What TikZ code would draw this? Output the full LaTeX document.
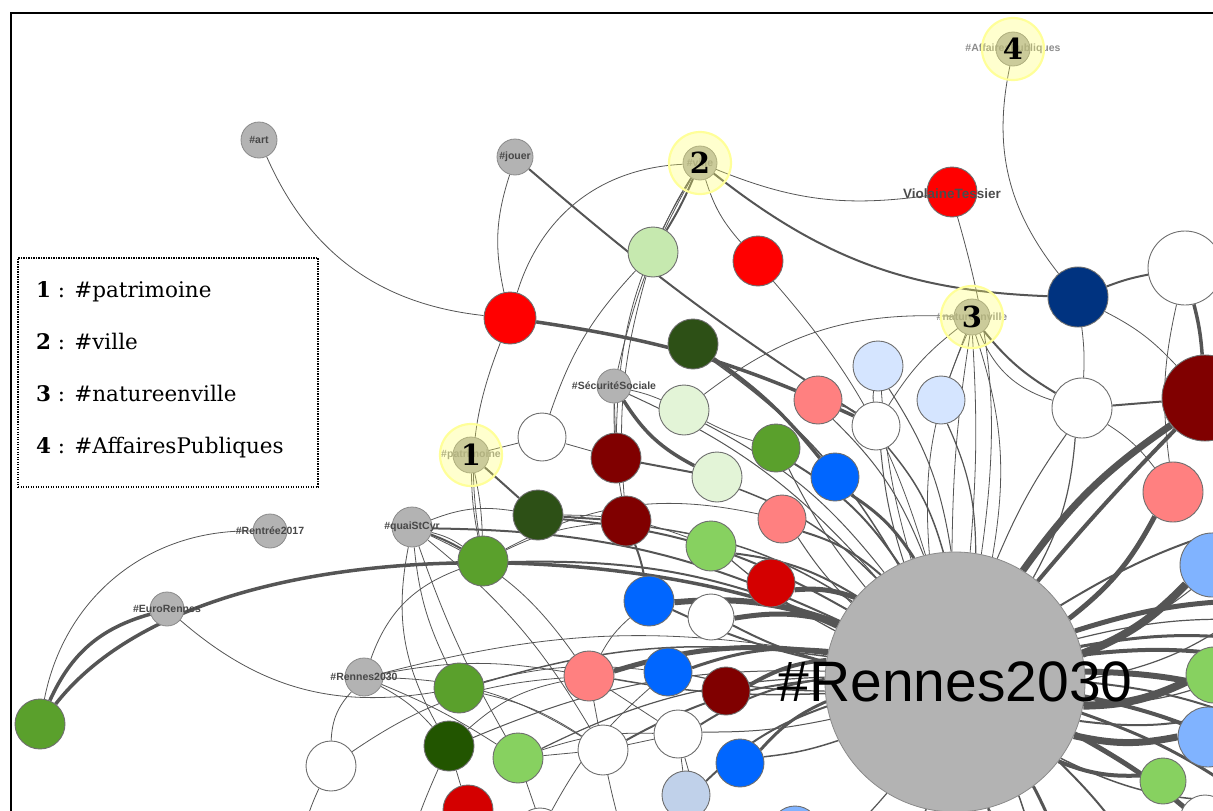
\documentclass[tikz,border=0pt]{standalone}
\usepackage{fontspec}
\setmainfont{DejaVu Serif}
\newfontfamily\gephifont{Liberation Sans}
\usetikzlibrary{backgrounds}

\definecolor{edgegray}{HTML}{555555}
\definecolor{taggray}{HTML}{B3B3B3}
\definecolor{tagline}{HTML}{8A8A8A}
\definecolor{userline}{HTML}{6E6E6E}
\definecolor{haloyellow}{HTML}{FFFF66}
\definecolor{haloring}{HTML}{FFFF99}
\definecolor{cRed}{HTML}{FF0000}
\definecolor{cRedd}{HTML}{D40000}
\definecolor{cDarkred}{HTML}{800000}
\definecolor{cSalmon}{HTML}{FF8080}
\definecolor{cPalegreen}{HTML}{C6E9AF}
\definecolor{cMintgreen}{HTML}{E3F4D7}
\definecolor{cGreen}{HTML}{5AA02C}
\definecolor{cLightgreen}{HTML}{87D160}
\definecolor{cDarkgreen}{HTML}{2D5016}
\definecolor{cForest}{HTML}{225500}
\definecolor{cBlue}{HTML}{0066FF}
\definecolor{cIceblue}{HTML}{D5E5FF}
\definecolor{cSkyblue}{HTML}{80B3FF}
\definecolor{cSteel}{HTML}{C0D1EA}
\definecolor{cNavy}{HTML}{003380}

\tikzset{
  tag/.style={circle, inner sep=0pt, minimum size=#1, fill=taggray, draw=tagline, line width=0.8pt},
  tag/.default=34,
  tagtext/.style={font=\gephifont\bfseries\fontsize{10.5}{10.5}\selectfont, text=black!72, inner sep=0pt},
  user/.style={circle, inner sep=0pt, minimum size=#1, draw=userline, line width=0.9pt},
  user/.default=50,
  halo/.style={circle, inner sep=0pt, minimum size=62, fill=haloyellow, fill opacity=0.32,
    draw=haloring, draw opacity=1, line width=2.2pt, text opacity=1,
    font=\bfseries\fontsize{29}{29}\selectfont},
  link/.style={draw=edgegray, line width=0.8pt},
  strong/.style={link, line width=2pt},
  heavy/.style={link, line width=3.5pt},
  legendline/.style={anchor=base west, font=\fontsize{21.5}{21.5}\selectfont, inner sep=0pt},
}

\begin{document}
\begin{tikzpicture}[x=1pt, y=-1pt]
\useasboundingbox (0,0) rectangle (1213,811);
\clip (0,0) rectangle (1213,811);

% hashtags
\node[tag=36, label={[tagtext]center:\#art}] (tArt) at (259,140) {};
\node[tag=36, label={[tagtext]center:\#jouer}] (tJouer) at (515,157) {};
\node[tag=34, label={[tagtext, text=black!45]center:\#ville}] (tVille) at (700,163) {};
\node[tag=34, label={[tagtext, text=black!45]center:\#AffairesPubliques}] (tAffaires) at (1013,49) {};
\node[tag=36, label={[tagtext, text=black!45]center:\#natureenville}] (tNature) at (972,317) {};
\node[tag=36, label={[tagtext, text=black!45]center:\#patrimoine}] (tPatri) at (471,455) {};
\node[tag=34, label={[tagtext]center:\#SécuritéSociale}] (tSecu) at (614,386) {};
\node[tag=40, label={[tagtext]center:\#quaiStCyr}] (tQuai) at (412,527) {};
\node[tag=34, label={[tagtext]center:\#Rentrée2017}] (tRentree) at (270,531) {};
\node[tag=34, label={[tagtext]center:\#EuroRennes}] (tEuro) at (167,609) {};
\node[tag=38, label={[tagtext]center:\#Rennes2030}] (tRennes) at (364,677) {};

% accounts
\node[user=50, fill=cRed] (uViolaine) at (952,192) {};
\node[font=\gephifont\bfseries\fontsize{13.5}{13.5}\selectfont, text=black!70, inner sep=0pt] (lViolaine) at (952,194) {ViolaineTessier};
\node[user=52, fill=cRed] (uRedA) at (510,318) {};
\node[user=50, fill=cPalegreen] (uPaleA) at (653,252) {};
\node[user=50, fill=cRed] (uRedB) at (758,261) {};
\node[user=74, fill=white] (uWhiteR) at (1185,268) {};
\node[user=60, fill=cNavy] (uNavy) at (1078,297) {};
\node[user=50, fill=cDarkgreen] (uDarkA) at (693,344) {};
\node[user=50, fill=cIceblue] (uIceA) at (878,366) {};
\node[user=48, fill=cIceblue] (uIceB) at (941,400) {};
\node[user=48, fill=cSalmon] (uSalmA) at (818,400) {};
\node[user=48, fill=white] (uWhiteA) at (876,426) {};
\node[user=60, fill=white] (uWhiteB) at (1082,408) {};
\node[user=86, fill=cDarkred] (uDarkredR) at (1205,398) {};
\node[user=48, fill=white] (uWhiteC) at (542,437) {};
\node[user=50, fill=cDarkred] (uDarkredA) at (616,458) {};
\node[user=50, fill=cMintgreen] (uMintA) at (684,410) {};
\node[user=48, fill=cGreen] (uGreenA) at (776,448) {};
\node[user=50, fill=cMintgreen] (uMintB) at (717,477) {};
\node[user=48, fill=cBlue] (uBlueA) at (835,477) {};
\node[user=60, fill=cSalmon] (uSalmR) at (1173,492) {};
\node[user=50, fill=cDarkgreen] (uDarkB) at (538,515) {};
\node[user=50, fill=cDarkred] (uDarkredB) at (626,521) {};
\node[user=48, fill=cSalmon] (uSalmB) at (782,519) {};
\node[user=50, fill=cGreen] (uGreenB) at (483,561) {};
\node[user=50, fill=cLightgreen] (uLightA) at (711,546) {};
\node[user=48, fill=cRedd] (uReddA) at (771,583) {};
\node[user=50, fill=cBlue] (uBlueB) at (649,601) {};
\node[user=46, fill=white] (uWhiteD) at (711,617) {};
\node[user=64, fill=cSkyblue] (uSkyR) at (1212,565) {};
\node[user=50, fill=cSalmon] (uSalmC) at (589,676) {};
\node[user=48, fill=cBlue] (uBlueC) at (668,672) {};
\node[user=48, fill=cDarkred] (uDarkredC) at (726,691) {};
\node[user=50, fill=cGreen] (uGreenC) at (459,688) {};
\node[user=56, fill=cLightgreen] (uLightR) at (1214,675) {};
\node[user=60, fill=cSkyblue] (uSkyS) at (1208,737) {};
\node[user=46, fill=cLightgreen] (uLightB) at (1163,781) {};
\node[user=50, fill=white] (uWhiteE) at (331,766) {};
\node[user=50, fill=cForest] (uForest) at (449,746) {};
\node[user=50, fill=cLightgreen] (uLightC) at (518,758) {};
\node[user=50, fill=white] (uWhiteF) at (603,750) {};
\node[user=48, fill=white] (uWhiteG) at (678,734) {};
\node[user=48, fill=cBlue] (uBlueD) at (740,763) {};
\node[user=48, fill=cSteel] (uSteel) at (686,795) {};
\node[user=50, fill=cGreen] (uGreenL) at (40,724) {};
\node[user=50, fill=cRedd] (uReddB) at (468,810) {};
\node[user=48, fill=white] (uWhiteH) at (540,832) {};
\node[user=48, fill=cSkyblue] (uSkyB) at (795,830) {};
\node[user=50, fill=white] (uWhiteS) at (1205,820) {};

% central hashtag
\node[tag=260, label={[font=\gephifont\fontsize{57}{57}\selectfont, inner sep=0pt]center:\#Rennes2030}] (hub) at (955,682) {};

% highlighted hashtags
\node[halo] (h1) at (tPatri) {1};
\node[halo] (h2) at (tVille) {2};
\node[halo] (h3) at (tNature) {3};
\node[halo] (h4) at (tAffaires) {4};

% free ends off the frame
\foreach \i/\x/\y in {1/1260/600, 2/1260/640, 3/1260/700, 4/1260/725, 5/1260/760,
  6/1250/800, 7/1230/850, 8/1150/880, 9/1070/890, 10/980/890, 11/880/880,
  12/800/870, 13/1260/520, 14/1260/660, 15/1260/620, 16/1040/900}
  \coordinate (r\i) at (\x,\y);
\foreach \i/\x/\y in {1/400/880, 2/560/880, 3/640/880, 4/720/880, 5/300/860}
  \coordinate (b\i) at (\x,\y);

\begin{pgfonlayer}{background}
\clip (0,0) rectangle (1213,811);

% spokes of the central hashtag
\foreach \u/\w in {uBlueB/6, uWhiteD/5, uSalmC/5, uReddA/5, uGreenB/2, uBlueC/3,
  uDarkredC/4, uLightA/2, uSalmB/2, uBlueA/3, uGreenA/2, uWhiteA/1.5, uSalmA/1,
  uIceA/1, uIceB/1.2, uMintB/1.5, uDarkredB/1.5, uDarkB/2, uWhiteG/2, uBlueD/3,
  uWhiteF/2, uSteel/2, uGreenC/1.5, uLightC/1.2, tQuai/2, uSalmR/5, uSkyR/8,
  uLightR/8, uSkyS/7, uLightB/4, uWhiteB/1.2, uViolaine/0.8, uRedB/0.8,
  tSecu/1, tRennes/0.8, uMintA/1, uDarkA/1.5, uForest/1}
  \draw[link, line width=\w pt] (hub) to[bend right=12] (\u);
\foreach \u/\w in {uBlueB/2, uWhiteD/2, uSalmC/1.5, uBlueC/1.2, uWhiteA/1, uIceA/0.8,
  uGreenA/1, uSalmB/1, uLightA/1.2, uWhiteG/1, uBlueD/1.5, uWhiteB/1}
  \draw[link, line width=\w pt] (hub) to[bend left=6] (\u);
\foreach \i/\w in {1/5, 2/3, 3/6, 4/2, 5/4, 6/3, 7/5, 8/2, 9/3, 10/2, 11/1.5,
  12/1.2, 13/2, 14/4, 15/1.2, 16/1.5}
  \draw[link, line width=\w pt] (hub) to[bend left=8] (r\i);
\foreach \i/\w in {1/1.2, 3/2, 6/1.5, 9/1, 13/1, 14/1.2}
  \draw[link, line width=\w pt] (hub) to[bend right=14] (r\i);
\draw[link, line width=7pt] (hub) to[bend left=10] (uDarkredR);
\draw[link, line width=4pt] (hub) to[bend left=2] (uDarkredR);
\draw[link] (hub) to[bend left=4] (tNature);
\draw[link] (hub) to[bend right=4] (tNature);
\draw[link] (hub) to[bend right=14] (tNature);
\draw[link] (hub) to[bend left=14] (tNature);

% top of the graph
\draw[link] (tArt) to[bend right=30] (uRedA);
\draw[link] (tJouer) to[bend right=15] (uRedA);
\draw[strong] (tJouer) to[bend right=4] (uWhiteA);
\draw[link] (uRedA) to[bend left=35] (tVille);
\draw[strong] (tVille) to[bend left=4] (uPaleA);
\draw[link] (tVille) to[bend right=4] (uPaleA);
\draw[link] (tVille) to[bend right=12] (uRedB);
\draw[link] (tVille) to[bend right=15] (uViolaine);
\draw[strong] (tVille) to[bend right=18] (uNavy);
\draw[link] (tVille) to[bend right=8] (tSecu);
\draw[link] (tVille) to[bend right=15] (uDarkredA);
\draw[heavy] (uRedA) to[bend left=8] (uWhiteA);
\draw[link] (uRedA) to[bend right=15] (uGreenB);
\draw[link] (uPaleA) to[bend right=12] (uWhiteC);
\draw[link] (uPaleA) to[bend right=10] (uDarkredB);
\draw[link] (tAffaires) to[bend right=25] (uNavy);
\draw[strong] (uNavy) to[bend left=5] (uWhiteR);
\draw[link] (uNavy) to[bend left=5] (uWhiteB);
\draw[link] (uNavy) to[bend left=10] (uDarkredR);
\draw[strong] (tNature) to[bend right=10] (uWhiteB);
\draw[link] (tNature) to[bend right=25] (uWhiteB);
\draw[link] (tNature) -- (uIceB);
\draw[link] (tNature) to[bend right=10] (uWhiteA);
\draw[link] (uMintA) to[bend left=20] (tNature);
\draw[strong] (uWhiteB) -- (uDarkredR);
\draw[link] (uWhiteB) to[bend left=10] (uSalmR);
\draw[heavy] (uWhiteR) to[bend left=5] (uDarkredR);
\draw[link] (uWhiteR) to[bend right=10] (uSalmR);

% middle of the graph
\draw[heavy] (uDarkA) to[bend left=8] (uBlueA);
\draw[link] (uMintA) to[bend right=5] (uGreenA);
\draw[heavy] (tSecu) to[bend right=15] (uMintB);
\draw[link] (tSecu) to[bend left=5] (uMintA);
\draw[link] (tSecu) to[bend right=5] (uDarkredB);
\draw[link] (tSecu) -- (uDarkredA);
\draw[strong] (uDarkredB) to[bend left=5] (uBlueB);
\draw[strong] (uDarkredA) -- (uMintB);
\draw[link] (uWhiteC) -- (uDarkredA);
\draw[link] (tPatri) -- (uWhiteC);
\draw[strong] (tPatri) -- (uDarkB);
\draw[link] (tPatri) to[bend right=5] (uGreenB);
\draw[link] (tPatri) to[bend left=5] (uGreenB);
\draw[strong] (uDarkB) -- (uDarkredB);
\draw[link] (uDarkB) to[bend left=10] (uLightA);
\draw[link] (uGreenB) to[bend left=20] (uSalmB);
\draw[link] (uGreenB) to[bend left=10] (uDarkredB);
\draw[link] (uSalmA) to[bend left=10] (uWhiteA);
\draw[link] (uIceA) to[bend right=8] (uWhiteA);

% left of the graph
\draw[heavy] (uGreenL) .. controls (200,520) and (650,540) .. (hub);
\draw[heavy] (uGreenL) to[bend left=25] (tEuro);
\draw[link] (uGreenL) to[bend left=40] (tRentree);
\draw[link] (tEuro) to[bend right=25] (uGreenC);
\draw[link] (tQuai) to[bend left=10] (uGreenB);
\draw[strong] (tQuai) to[bend left=4] (uGreenB);
\draw[link] (tQuai) to[bend left=15] (uDarkB);
\draw[link] (tQuai) to[bend right=10] (uGreenC);
\draw[link] (tQuai) to[bend right=20] (uForest);
\draw[link] (tQuai) to[bend left=10] (uWhiteF);
\draw[link] (tQuai) to[bend left=15] (uSalmC);
\draw[link] (tQuai) to[bend right=5] (uLightC);
\draw[link] (tRennes) to[bend right=20] (uWhiteE);
\draw[link] (tRennes) to[bend left=10] (uForest);
\draw[link] (tRennes) to[bend left=5] (uLightC);
\draw[link] (tRennes) to[bend left=15] (uWhiteF);
\draw[link] (tRennes) to[bend left=25] (uGreenB);
\draw[link] (tRennes) to[bend left=10] (uSalmC);

% bottom of the graph
\draw[link] (uWhiteE) to[bend left=15] (uSalmC);
\draw[link] (uWhiteE) to[bend right=10] (b5);
\draw[link] (uForest) -- (uReddB);
\draw[link] (uLightC) -- (uWhiteF);
\draw[link] (uGreenC) to[bend left=10] (uWhiteF);
\draw[link] (uGreenC) to[bend left=10] (uBlueC);
\draw[link] (uWhiteF) -- (uWhiteG);
\draw[link] (uWhiteF) -- (uSalmC);
\draw[link] (uWhiteG) -- (uSteel);
\draw[link] (uForest) to[bend left=15] (uSalmC);
\draw[link] (uLightC) to[bend left=10] (uWhiteG);
\draw[link] (uSalmC) -- (uWhiteG);
\draw[link] (uSalmC) to[bend left=10] (uBlueB);
\draw[link] (uWhiteF) to[bend right=5] (b3);
\draw[link] (uLightC) -- (b2);
\draw[link] (uForest) to[bend right=5] (b1);
\draw[link] (uWhiteG) -- (b4);
\draw[link] (uBlueC) to[bend right=10] (uWhiteH);
\end{pgfonlayer}

% key
\node[draw, dash pattern=on 1.2pt off 1.3pt, line width=1.2pt, minimum width=300,
  minimum height=229, inner sep=0pt] (key) at (168,372.5) {};
\node[legendline] (k1) at (36,297) {\textbf{1} : \#patrimoine};
\node[legendline] (k2) at (36,349) {\textbf{2} : \#ville};
\node[legendline] (k3) at (36,401) {\textbf{3} : \#natureenville};
\node[legendline] (k4) at (36,453) {\textbf{4} : \#AffairesPubliques};

% frame
\draw[line width=2.5pt] (11,811) -- (11,13) -- (1213,13);
\end{tikzpicture}
\end{document}
